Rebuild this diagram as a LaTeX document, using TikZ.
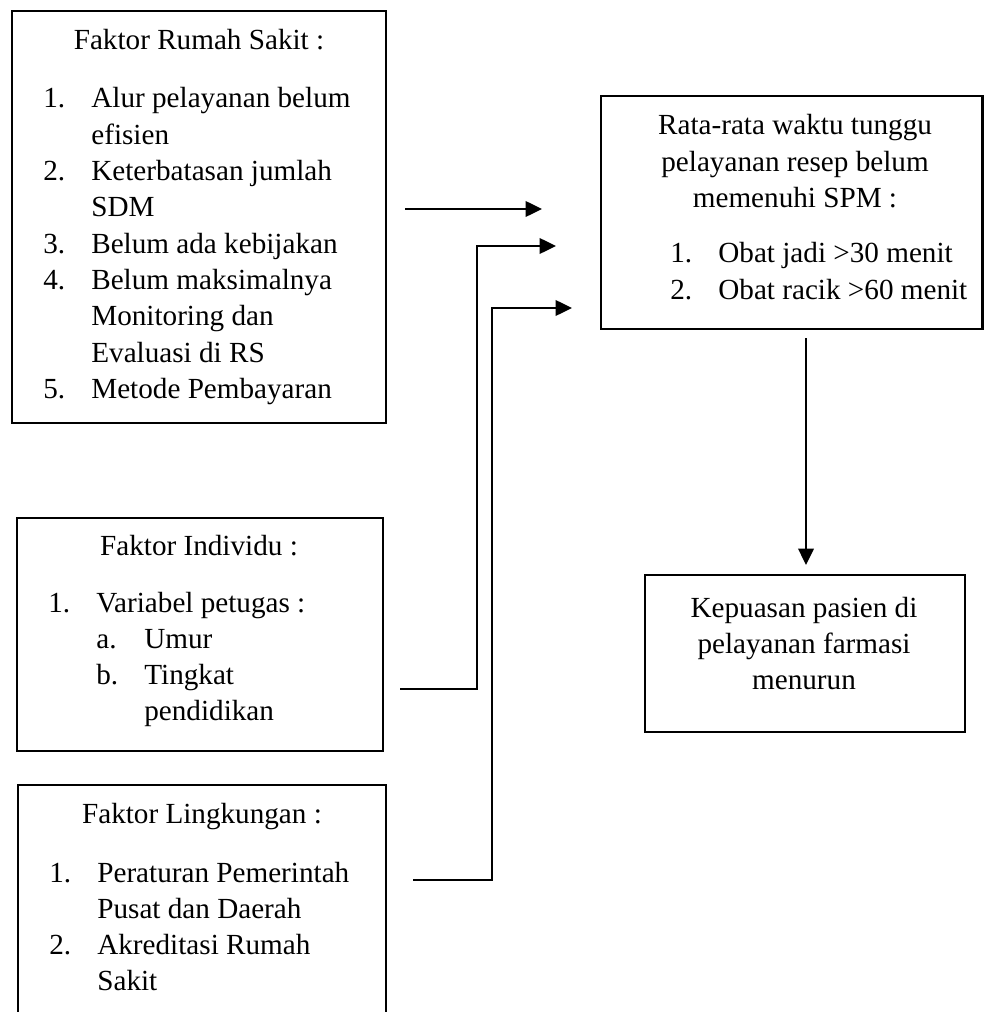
\documentclass[tikz,border=0pt]{standalone}
\usepackage{fontspec}
\setmainfont{Liberation Serif}
\usetikzlibrary{arrows.meta}

\newcommand{\nr}[2]{\makebox[9.6mm][l]{#1}#2}
\newcommand{\nx}[1]{\hspace*{9.6mm}#1}

\tikzset{
  kotak/.style={shape=rectangle,draw=black,line width=0.5mm,inner sep=0pt},
  teks/.style={inner sep=0pt,font=\fontsize{16.6}{20.66}\selectfont},
  panah/.style={-{Triangle[length=3.3mm,width=3.1mm]},line width=0.5mm}
}

\begin{document}
\begin{tikzpicture}[x=0.2mm,y=-0.2mm]
    \useasboundingbox (0,0) rectangle (984,1012);
    % kotak
    \node[kotak,minimum width=74.8mm,minimum height=82.4mm] (RS) at (199,217) {};
    \node[kotak,minimum width=76.3mm,minimum height=46.6mm] (WT) at (791.75,212.5) {};
    \node[kotak,minimum width=73.2mm,minimum height=46.6mm] (IN) at (200,634.5) {};
    \node[kotak,minimum width=73.6mm,minimum height=47mm] (LK) at (202,902.5) {};
    \node[kotak,minimum width=64mm,minimum height=31.4mm] (KP) at (805,653.5) {};
    % isi kotak
    \node[teks,anchor=base] (RSt) at (199,50) {Faktor Rumah Sakit :};
    \node[teks,anchor=base west] (RSl) at (43,108) {\begin{tabular}[t]{@{}l@{}}
        \nr{1.}{Alur pelayanan belum}\\ \nx{efisien}\\
        \nr{2.}{Keterbatasan jumlah}\\ \nx{SDM}\\
        \nr{3.}{Belum ada kebijakan}\\
        \nr{4.}{Belum maksimalnya}\\ \nx{Monitoring dan}\\ \nx{Evaluasi di RS}\\
        \nr{5.}{Metode Pembayaran}
      \end{tabular}};
    \node[teks,anchor=base] (WTt) at (795,135) {\begin{tabular}[t]{@{}c@{}}
        Rata-rata waktu tunggu\\ pelayanan resep belum\\ memenuhi SPM :
      \end{tabular}};
    \node[teks,anchor=base west] (WTl) at (670,263) {\begin{tabular}[t]{@{}l@{}}
        \nr{1.}{Obat jadi >30 menit}\\
        \nr{2.}{Obat racik >60 menit}
      \end{tabular}};
    \node[teks,anchor=base] (INt) at (199,555) {Faktor Individu :};
    \node[teks,anchor=base west] (INl) at (48,612) {\begin{tabular}[t]{@{}l@{}}
        \nr{1.}{Variabel petugas :}\\
        \nx{\nr{a.}{Umur}}\\
        \nx{\nr{b.}{Tingkat}}\\
        \nx{\nx{pendidikan}}
      \end{tabular}};
    \node[teks,anchor=base] (LKt) at (202,823) {Faktor Lingkungan :};
    \node[teks,anchor=base west] (LKl) at (49,882) {\begin{tabular}[t]{@{}l@{}}
        \nr{1.}{Peraturan Pemerintah}\\ \nx{Pusat dan Daerah}\\
        \nr{2.}{Akreditasi Rumah}\\ \nx{Sakit}
      \end{tabular}};
    \node[teks,anchor=base] (KPt) at (804,617) {\begin{tabular}[t]{@{}c@{}}
        Kepuasan pasien di\\ pelayanan farmasi\\ menurun
      \end{tabular}};
    % ujung panah
    \coordinate (RSo) at (405,209);
    \coordinate (RSi) at (542,209);
    \coordinate (INo) at (400,689);
    \coordinate (INi) at (556,246);
    \coordinate (LKo) at (413,880);
    \coordinate (LKi) at (572,308);
    \coordinate (WTo) at (806,338);
    \coordinate (KPi) at (806,565);
    \draw[panah] (RSo) -- (RSi);
    \draw[panah] (INo) -- (477,689) -- (477,246) -- (INi);
    \draw[panah] (LKo) -- (492,880) -- (492,308) -- (LKi);
    \draw[panah] (WTo) -- (KPi);
\end{tikzpicture}
\end{document}
